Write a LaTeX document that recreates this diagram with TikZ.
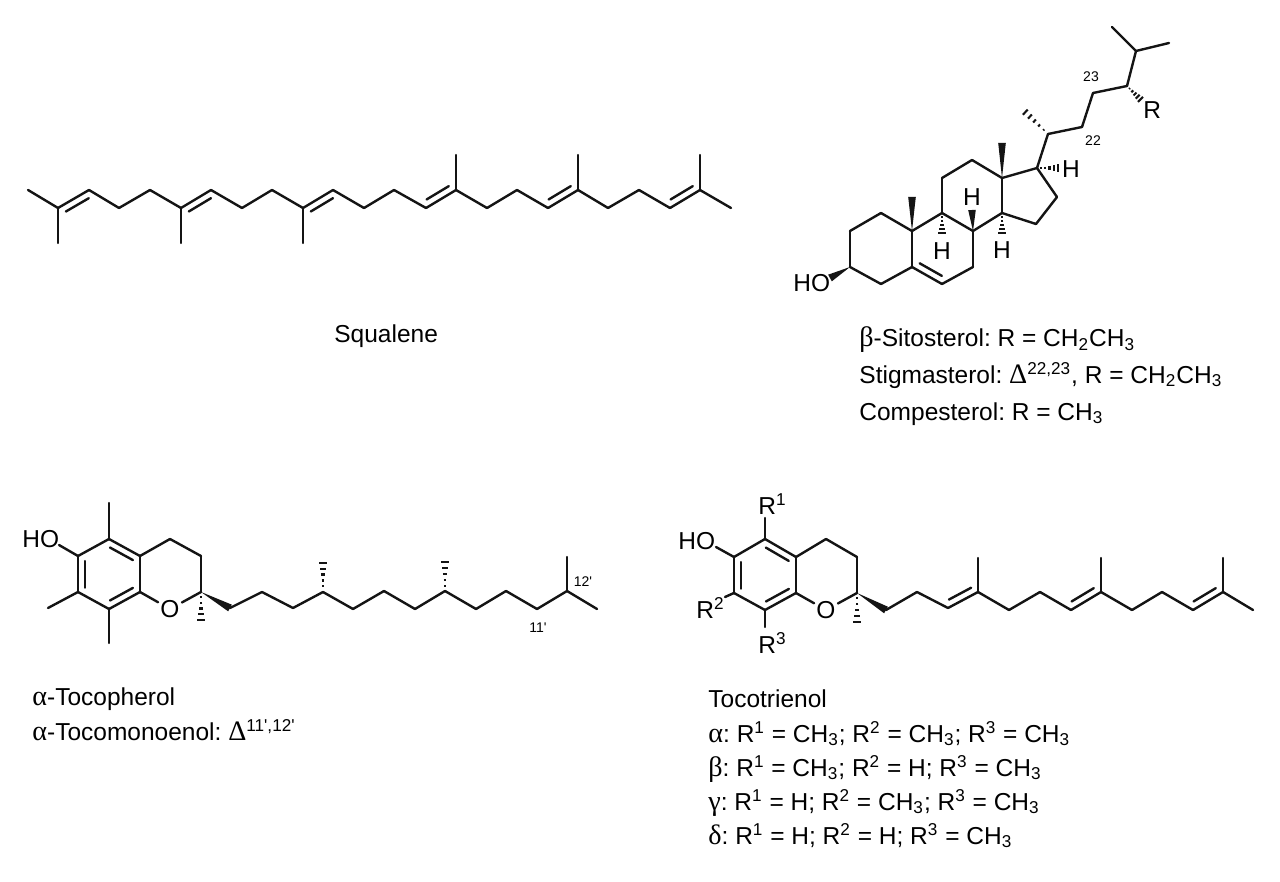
\documentclass[tikz,border=0pt]{standalone}
\usepackage{fontspec}
\setmainfont{Liberation Sans}
\newfontfamily\greekfont[Scale=1.15]{Liberation Serif}
\usetikzlibrary{calc}
\tikzset{
  bond/.style={line width=1.2pt,line cap=round,color=black!92},
}
% second line of a double bond, solid wedge, hashed wedge
\newcommand{\innerbond}[3]{\draw[bond] ($(#1)!.14!(#2)!#3!90:(#2)$) -- ($(#1)!.88!(#2)!#3!90:(#2)$);}
\newcommand{\wedgebond}[2]{\fill[black!92] (#1) -- ($(#2)!1.9pt!90:(#1)$) -- ($(#2)!1.9pt!-90:(#1)$) -- cycle;}
\newcommand{\hashbond}[2]{\foreach \t in {.16,.33,.5,.67,.84,1} {%
    \draw[line width=1.05pt,black!92] ($(#1)!\t!(#2)!\t*2.1pt!90:(#2)$) -- ($(#1)!\t!(#2)!\t*2.1pt!-90:(#2)$);}}
\newcommand{\grk}[1]{{\greekfont #1}}
\newcommand{\labelfont}{\fontsize{12.25}{14}\selectfont\frenchspacing}
\begin{document}
\begin{tikzpicture}[x=.5pt,y=-.5pt]
  \useasboundingbox (0,0) rectangle (1280,882);
  % squalene
  \foreach \x/\y [count=\i] in {28/190,58/208,89/190,119/208,150/190,181/208,211/190,242/208,
    272/190,303/208,333/190,364/208,394/190,426/208,456/190,487/208,517/190,548/208,578/190,
    608/208,639/190,670/208,700/190,731/208}
    \coordinate (sq\i) at (\x,\y);
  \foreach \i [remember=\i as \j (initially 1)] in {2,...,24}
    \draw[bond] (sq\j) -- (sq\i);
  \foreach \n/\x/\y in {2/58/243,6/181/243,10/303/243,15/456/155,19/578/155,23/700/155} {
    \coordinate (sqme\n) at (\x,\y);
    \draw[bond] (sq\n) -- (sqme\n);
  }
  \foreach \a/\b/\off in {2/3/-3.5pt,6/7/-3.5pt,10/11/-3.5pt,14/15/3.5pt,18/19/3.5pt,22/23/3.5pt}
    {\innerbond{sq\a}{sq\b}{\off}}
  % sitosterol skeleton
  \foreach \n/\x/\y in {1/881/213,2/850/231,3/850/267,4/881/284,5/912/267,6/942/284,7/973/267,
    8/973/231,9/942/213,10/912/231,11/942/178,12/972/160,13/1002/178,14/1002/213,15/1036/224,
    16/1057/197,17/1037/168,18/1002/143,19/912/197,20/1048/134,21/1021/108,22/1082/127,
    23/1093/93,24/1127/86,25/1136/51,26/1112/27,27/1169/43,oh/830/278,r/1143/102,
    hc/1062/168,hb/972/210,ha/942/237,hd/1002/237}
    \coordinate (st\n) at (\x,\y);
  \foreach \a/\b in {1/2,2/3,3/4,4/5,5/6,6/7,7/8,8/9,9/10,10/1,5/10,9/11,11/12,12/13,13/14,
    14/8,14/15,15/16,16/17,17/13,17/20,20/22,22/23,23/24,24/25,25/26,25/27}
    \draw[bond] (st\a) -- (st\b);
  \innerbond{st5}{st6}{3.5pt}
  \foreach \a/\b in {3/oh,10/19,13/18,8/hb}
    {\wedgebond{st\a}{st\b}}
  \foreach \a/\b in {20/21,24/r,17/hc,9/ha,14/hd}
    {\hashbond{st\a}{st\b}}
  % tocopherol
  \begin{scope}[every node/.style={font=\labelfont,inner sep=1pt}]
    \node (tpo) at (170,609) {O};
    \node (too) at (826,610) {O};
  \end{scope}
  \foreach \n/\x/\y in {6/78/556,5/109/539,4a/140/556,8a/140/592,8/109/609,7/78/592,2/201/592,
    3/201/556,4/170/539,me5/109/503,me8/109/643,me7/48/608,oh/59/545,me2/201/625,
    c1/230/608,c2/262/592,c3/293/608,c4/323/592,c5/353/609,c6/384/591,c7/415/609,c8/445/591,
    c9/476/609,c10/506/591,c11/537/609,c12/567/591,c13/597/609,mea/323/557,meb/445/557,mec/567/557}
    \coordinate (tp\n) at (\x,\y);
  \foreach \a/\b in {6/5,5/4a,4a/8a,8a/8,8/7,7/6,4a/4,4/3,3/2,5/me5,8/me8,7/me7,6/oh,
    c1/c2,c2/c3,c3/c4,c4/c5,c5/c6,c6/c7,c7/c8,c8/c9,c9/c10,c10/c11,c11/c12,c12/c13,c12/mec}
    \draw[bond] (tp\a) -- (tp\b);
  \draw[bond] (tp8a) -- (tpo);
  \draw[bond] (tp2) -- (tpo);
  \foreach \a/\b/\off in {6/7/3.5pt,5/4a/-3.5pt,8/8a/3.5pt}
    {\innerbond{tp\a}{tp\b}{\off}}
  \wedgebond{tp2}{tpc1}
  \foreach \a/\b in {2/me2,c4/mea,c8/meb}
    {\hashbond{tp\a}{tp\b}}
  % tocotrienol
  \foreach \n/\x/\y in {6/734/557,5/765/539,4a/796/557,8a/796/593,8/765/610,7/734/593,2/857/593,
    3/857/557,4/826/539,r1/765/518,r2/725/597,r3/765/627,oh/716/547,me2/857/627,
    c1/886/610,c2/917/592,c3/948/608,c4/978/592,c5/1009/610,c6/1040/592,c7/1071/610,c8/1101/592,
    c9/1132/610,c10/1162/592,c11/1193/610,c12/1223/592,c13/1253/610,mea/978/558,meb/1101/558,mec/1223/558}
    \coordinate (to\n) at (\x,\y);
  \foreach \a/\b in {6/5,5/4a,4a/8a,8a/8,8/7,7/6,4a/4,4/3,3/2,5/r1,8/r3,7/r2,6/oh,
    c1/c2,c2/c3,c3/c4,c4/c5,c5/c6,c6/c7,c7/c8,c8/c9,c9/c10,c10/c11,c11/c12,c12/c13,c4/mea,c8/meb,c12/mec}
    \draw[bond] (to\a) -- (to\b);
  \draw[bond] (to8a) -- (too);
  \draw[bond] (to2) -- (too);
  \foreach \a/\b/\off in {6/7/3.5pt,5/4a/-3.5pt,8/8a/3.5pt,c3/c4/3.5pt,c7/c8/3.5pt,c11/c12/3.5pt}
    {\innerbond{to\a}{to\b}{\off}}
  \wedgebond{to2}{toc1}
  \hashbond{to2}{tome2}
  % atom labels
  \begin{scope}[every node/.style={font=\labelfont,inner sep=0pt,anchor=base west}]
    \node (stho)  at (793,292)  {HO};
    \node (stR)   at (1143,119) {R};
    \node (tpho)  at (22,547)   {HO};
    \node (toho)  at (678,549)  {HO};
    \node (toR1)  at (758,514)  {R\textsuperscript{1}};
    \node (toR2)  at (696,618)  {R\textsuperscript{2}};
    \node (toR3)  at (758,653)  {R\textsuperscript{3}};
  \end{scope}
  \begin{scope}[every node/.style={font=\labelfont,inner sep=0pt}]
    \node (sthc) at (1071,169) {H};
    \node (sthb) at (972,197)  {H};
    \node (stha) at (942,251)  {H};
    \node (sthd) at (1002,250) {H};
  \end{scope}
  \begin{scope}[every node/.style={font=\fontsize{7}{8}\selectfont,inner sep=0pt}]
    \node (lab23)  at (1091,77) {23};
    \node (lab22)  at (1093,141) {22};
    \node (lab12p) at (583,582) {12\textquotesingle};
    \node (lab11p) at (538,628) {11\textquotesingle};
  \end{scope}
  % captions
  \begin{scope}[every node/.style={font=\labelfont,inner sep=0pt,anchor=base west}]
    \node (squalene) at (334,343) {Squalene};
    \node (sito)  at (859,347) {\grk{β}-Sitosterol: R = CH\textsubscript{2}CH\textsubscript{3}};
    \node (stig)  at (859,383) {Stigmasterol: \grk{Δ}\textsuperscript{22,23}, R = CH\textsubscript{2}CH\textsubscript{3}};
    \node (comp)  at (859,420) {Compesterol: R = CH\textsubscript{3}};
    \node (tocoph) at (32,705) {\grk{α}-Tocopherol};
    \node (tocomo) at (32,740) {\grk{α}-Tocomonoenol: \grk{Δ}\textsuperscript{11\textquotesingle,12\textquotesingle}};
    \node (tocot)  at (708,707) {Tocotrienol};
    \node (alpha)  at (708,742) {\grk{α}: R\textsuperscript{1} = CH\textsubscript{3}; R\textsuperscript{2} = CH\textsubscript{3}; R\textsuperscript{3} = CH\textsubscript{3}};
    \node (beta)   at (708,776) {\grk{β}: R\textsuperscript{1} = CH\textsubscript{3}; R\textsuperscript{2} = H; R\textsuperscript{3} = CH\textsubscript{3}};
    \node (gamma)  at (708,810) {\grk{γ}: R\textsuperscript{1} = H; R\textsuperscript{2} = CH\textsubscript{3}; R\textsuperscript{3} = CH\textsubscript{3}};
    \node (delta)  at (708,844) {\grk{δ}: R\textsuperscript{1} = H; R\textsuperscript{2} = H; R\textsuperscript{3} = CH\textsubscript{3}};
  \end{scope}
\end{tikzpicture}
\end{document}
